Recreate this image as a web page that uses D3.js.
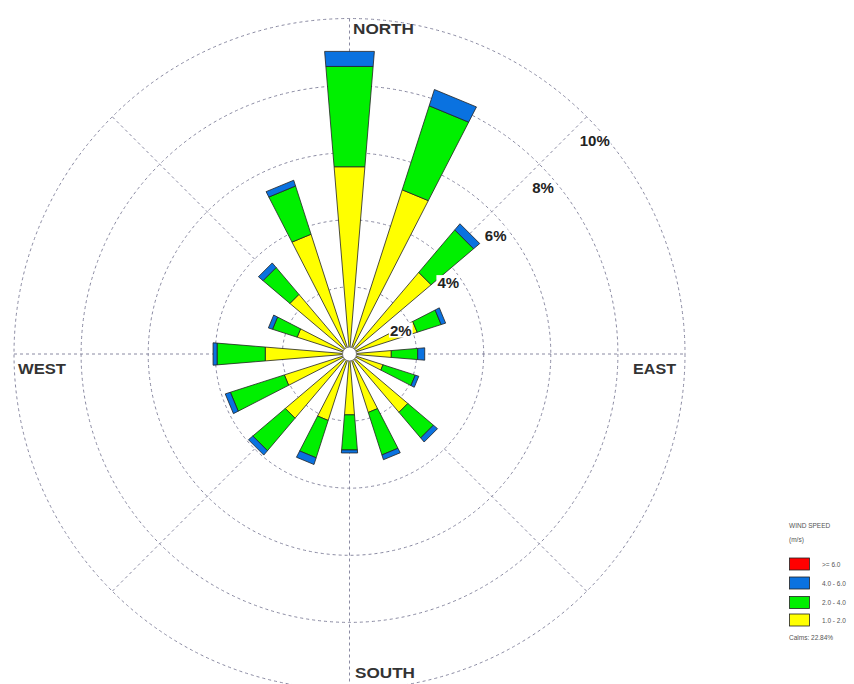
<!DOCTYPE html>
<html><head><meta charset="utf-8">
<script src="https://cdn.jsdelivr.net/npm/d3@7"></script>
<style>
html,body{margin:0;padding:0;background:#fff;}
svg{display:block;}
text{font-family:"Liberation Sans",Arial,sans-serif;}
</style></head>
<body>
<script>
// ---- data ----
const directions = ["N","NNE","NE","ENE","E","ESE","SE","SSE","S","SSW","SW","WSW","W","WNW","NW","NNW"];
const speed1to2 = [5.60,5.14,3.19,2.12,1.25,1.05,2.28,1.83,1.82,2.08,2.51,2.04,2.52,1.64,2.33,3.75];
const speed2to4 = [3.00,2.63,1.66,0.75,0.79,1.01,1.00,1.33,1.05,1.17,1.27,1.69,1.44,0.77,1.05,1.51];
const speed4to6 = [0.45,0.51,0.24,0.14,0.21,0.11,0.16,0.15,0.09,0.21,0.17,0.16,0.12,0.13,0.18,0.18];
const speed6up  = [0,0,0,0,0,0,0,0,0,0,0,0,0,0,0,0];
const ringTicks = [2,4,6,8,10];
const ringLabels = ["2%","4%","6%","8%","10%"];
const compassLabels = ["NORTH","EAST","SOUTH","WEST"];
const legendTitle = ["WIND SPEED","(m/s)"];
const legendLabels = [">= 6.0","4.0 - 6.0","2.0 - 4.0","1.0 - 2.0"];
const calmsText = "Calms: 22.84%";

const W = 854, H = 684;
const cx = 349.5, cy = 354;
const r = d3.scaleLinear().domain([0,10]).range([0,335.5]);
const ang = d3.scaleLinear().domain([0,16]).range([0,2*Math.PI]);
const colors = {s1:"#ffff00", s2:"#00f000", s3:"#0a72e0", s4:"#ff0000"};
const gridColor = "#8a8aa2";

const svg = d3.select("body").append("svg").attr("width",W).attr("height",H);
const g = svg.append("g");

function pt(rad, a){ return [cx + rad*Math.sin(a), cy - rad*Math.cos(a)]; }

// rings
g.selectAll("circle.ring").data(ringTicks).enter().append("circle")
  .attr("cx",cx).attr("cy",cy).attr("r",d=>r(d))
  .attr("fill","none").attr("stroke",gridColor).attr("stroke-width",1)
  .attr("stroke-dasharray","3,3");

// main axes
const rMax = r(10);
g.append("line").attr("x1",cx-rMax).attr("x2",cx+rMax).attr("y1",cy).attr("y2",cy)
  .attr("stroke",gridColor).attr("stroke-dasharray","3,3");
g.append("line").attr("x1",cx).attr("x2",cx).attr("y1",cy-rMax).attr("y2",cy+rMax)
  .attr("stroke",gridColor).attr("stroke-dasharray","3,3");
// diagonals (from 4% ring outward)
[2,6,10,14].forEach(k=>{
  const a = ang(k);
  const p0 = pt(r(4),a), p1 = pt(r(10),a);
  g.append("line").attr("x1",p0[0]).attr("y1",p0[1]).attr("x2",p1[0]).attr("y2",p1[1])
    .attr("stroke",gridColor).attr("stroke-dasharray","3,3");
});

// bars
const keys = ["s1","s2","s3","s4"];
const rows = directions.map((d,i)=>({dir:d, i:i, s1:speed1to2[i], s2:speed2to4[i], s3:speed4to6[i], s4:speed6up[i]}));
const stacked = d3.stack().keys(keys)(rows);
const half = (4.7*Math.PI/180);
const line = d3.line();
stacked.forEach(layer=>{
  g.selectAll(null).data(layer.filter(d=>d[1]-d[0]>0)).enter().append("path")
    .attr("d",d=>{
      const a = ang(d.data.i);
      const pts = [pt(r(d[0]),a-half), pt(r(d[1]),a-half), pt(r(d[1]),a+half), pt(r(d[0]),a+half)];
      return line(pts)+"Z";
    })
    .attr("fill",colors[layer.key]).attr("stroke","#222").attr("stroke-width",0.8)
    .attr("stroke-linejoin","round");
});

// calm circle
g.append("circle").attr("cx",cx).attr("cy",cy).attr("r",7)
  .attr("fill","#fff").attr("stroke","#777").attr("stroke-width",1);

// ring labels with white background
ringTicks.forEach((t,k)=>{
  const p = pt(r(t), Math.PI/4);
  const x = p[0]-7, y = p[1]+29;
  const tx = g.append("text").attr("x",x).attr("y",y).text(ringLabels[k])
    .attr("font-size",15).attr("fill","#222").attr("font-weight","bold");
  const bb = tx.node().getBBox();
  g.insert("rect","text").attr("x",bb.x-1).attr("y",bb.y+1).attr("width",bb.width+2).attr("height",bb.height-2)
    .attr("fill","#fff");
});

// compass labels
const comp = [
  {t:compassLabels[0], x:353, y:34, w:61},
  {t:compassLabels[1], x:633, y:374, w:43},
  {t:compassLabels[2], x:355, y:678, w:60},
  {t:compassLabels[3], x:18, y:374, w:48}
];
comp.forEach(c=>{
  g.append("text").attr("x",c.x).attr("y",c.y).text(c.t)
    .attr("font-size",14).attr("font-weight","bold").attr("fill","#333")
    .attr("textLength",c.w).attr("lengthAdjust","spacingAndGlyphs");
});

// legend
const lg = svg.append("g");
lg.selectAll("text.title").data(legendTitle).enter().append("text")
  .attr("x",789).attr("y",(d,i)=>528+i*14).text(d=>d)
  .attr("font-size",6.5).attr("fill","#555");
const legColors = [colors.s4, colors.s3, colors.s2, colors.s1];
const boxY = [558,577,596.5,614];
lg.selectAll("rect.box").data(legendLabels).enter().append("rect")
  .attr("x",789.5).attr("y",(d,i)=>boxY[i]).attr("width",20).attr("height",12)
  .attr("fill",(d,i)=>legColors[i]).attr("stroke","#222").attr("stroke-width",0.8);
lg.selectAll("text.lab").data(legendLabels).enter().append("text")
  .attr("x",822).attr("y",(d,i)=>boxY[i]+8.5).text(d=>d)
  .attr("font-size",6.5).attr("fill","#555");
lg.append("text").attr("x",789).attr("y",640).text(calmsText)
  .attr("font-size",6.5).attr("fill","#555");
</script>
</body></html>
